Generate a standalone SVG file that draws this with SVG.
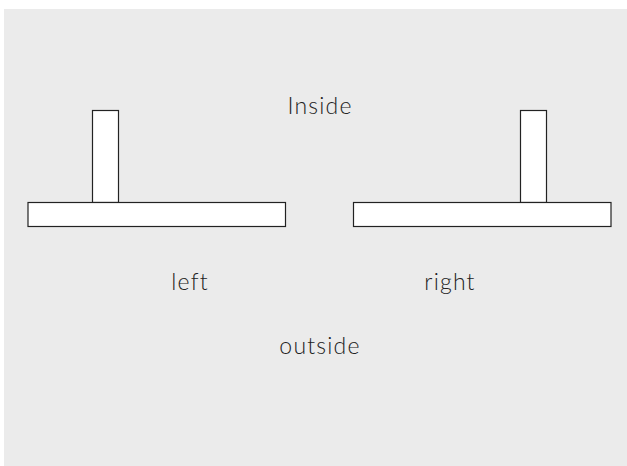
<svg xmlns="http://www.w3.org/2000/svg" width="627" height="466" viewBox="0 0 627 466">
<style>
.bg{fill:#ebebeb}
.part{fill:#ffffff;stroke:#222;stroke-width:1.2}
text{font-family:Lato,"Liberation Sans",sans-serif;font-size:23px;font-weight:300;letter-spacing:1.2px;fill:#222;text-anchor:middle}
</style>
<rect class="bg" x="4" y="9" width="623" height="457"/>
<g id="left-wall">
<rect class="part" x="92.5" y="110.5" width="26" height="92"/>
<rect class="part" x="28" y="202.5" width="257.5" height="24"/>
</g>
<g id="right-wall">
<rect class="part" x="520.5" y="110.5" width="26" height="92"/>
<rect class="part" x="353.5" y="202.5" width="257.5" height="24"/>
</g>
<g id="labels">
<text x="320" y="114">Inside</text>
<text x="190" y="290">left</text>
<text x="450" y="290">right</text>
<text x="320" y="354">outside</text>
</g>
</svg>
